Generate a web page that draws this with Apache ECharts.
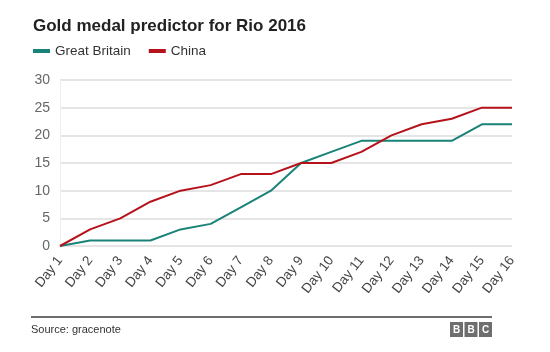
<!DOCTYPE html>
<html>
<head>
    <meta charset="utf-8">
    <title>ECharts</title>
    <script src="https://cdn.jsdelivr.net/npm/echarts@6/dist/echarts.min.js"></script>
</head>
<body style="margin:0">
    <div id="main" style="width: 550px;height:352px;"></div>
    <script type="text/javascript">
        var myChart = echarts.init(document.getElementById('main'));

        // chart data
        var days = ['Day 1', 'Day 2', 'Day 3', 'Day 4', 'Day 5', 'Day 6', 'Day 7', 'Day 8',
            'Day 9', 'Day 10', 'Day 11', 'Day 12', 'Day 13', 'Day 14', 'Day 15', 'Day 16'];
        var greatBritain = [0, 1, 1, 1, 3, 4, 7, 10, 15, 17, 19, 19, 19, 19, 22, 22];
        var china = [0, 3, 5, 8, 10, 11, 13, 13, 15, 15, 17, 20, 22, 23, 25, 25];

        var font = 'Arial, "Liberation Sans", sans-serif';

        // BBC blocks in the footer
        var bbc = ['B', 'B', 'C'].map(function (ch, i) {
            return {
                type: 'group',
                left: 450 + i * 14.5,
                top: 322,
                children: [{
                    type: 'rect',
                    shape: { x: 0, y: 0, width: 13, height: 15 },
                    style: { fill: '#6e6e6e' }
                }, {
                    type: 'text',
                    x: 6.5, y: 8,
                    style: {
                        text: ch, fill: '#fff', font: 'bold 10px ' + font,
                        align: 'center', verticalAlign: 'middle'
                    }
                }]
            };
        });

        var option = {
            animation: false,
            title: {
                text: 'Gold medal predictor for Rio 2016',
                left: 28,
                top: 13,
                textStyle: {
                    fontFamily: font,
                    fontSize: 17,
                    fontWeight: 'bold',
                    color: '#222'
                }
            },
            legend: {
                left: 33,
                top: 44,
                padding: 0,
                itemWidth: 17,
                itemHeight: 4,
                itemGap: 18,
                icon: 'rect',
                textStyle: { fontFamily: font, fontSize: 13.5, color: '#333', padding: [0, 0, 0, 0] },
                data: ['Great Britain', 'China']
            },
            grid: {
                left: 60,
                right: 38,
                top: 80,
                bottom: 106
            },
            xAxis: {
                type: 'category',
                boundaryGap: false,
                data: days,
                axisLine: { show: false },
                axisTick: { show: false },
                axisLabel: {
                    rotate: 52,
                    margin: 12,
                    fontFamily: font,
                    fontSize: 13.5,
                    color: '#444'
                }
            },
            yAxis: {
                type: 'value',
                min: 0,
                max: 30,
                interval: 5,
                axisLine: { show: true, lineStyle: { color: '#eee' } },
                axisTick: { show: false },
                axisLabel: {
                    margin: 10,
                    fontFamily: font,
                    fontSize: 14,
                    color: '#666'
                },
                splitLine: { lineStyle: { color: '#ddd', width: 1.5 } }
            },
            series: [{
                name: 'Great Britain',
                type: 'line',
                showSymbol: false,
                data: greatBritain,
                itemStyle: { color: '#1a8378' },
                lineStyle: { color: '#1a8378', width: 2 }
            }, {
                name: 'China',
                type: 'line',
                showSymbol: false,
                data: china,
                itemStyle: { color: '#b5121b' },
                lineStyle: { color: '#b5121b', width: 2 }
            }],
            graphic: [{
                type: 'rect',
                shape: { x: 31, y: 316, width: 461, height: 2 },
                style: { fill: '#6e6e6e' }
            }, {
                type: 'text',
                left: 31,
                top: 324,
                style: { text: 'Source: gracenote', fill: '#333', font: '11px ' + font }
            }].concat(bbc)
        };

        myChart.setOption(option);
    </script>
</body>
</html>
